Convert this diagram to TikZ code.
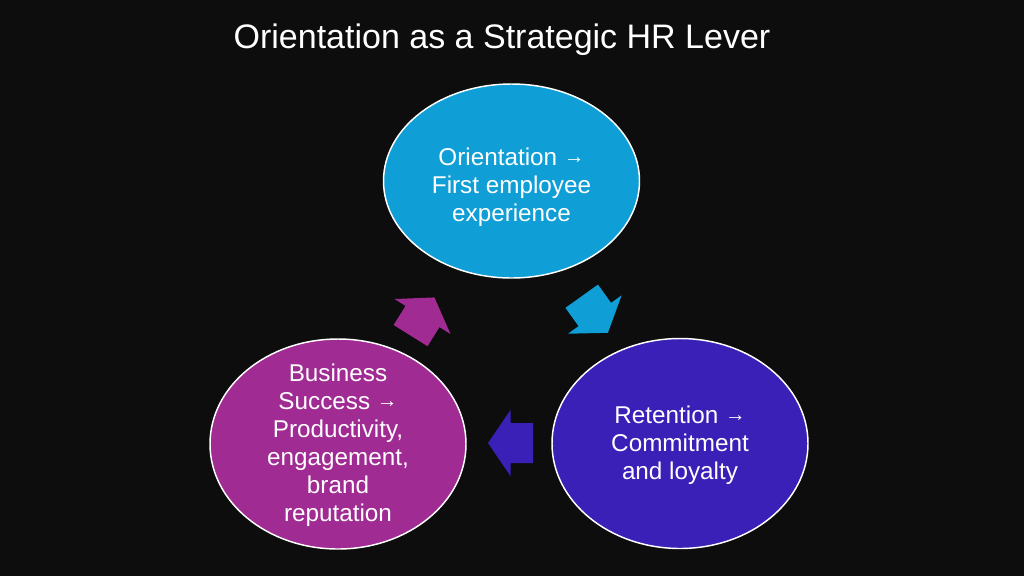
\documentclass[tikz,border=0pt]{standalone}
\usepackage{fontspec}
\setmainfont{Liberation Sans}
\usetikzlibrary{shapes.geometric}

\definecolor{slidebg}{HTML}{0D0D0D}
\definecolor{orientblue}{HTML}{0F9ED5}
\definecolor{retainviolet}{HTML}{3B20B8}
\definecolor{successmagenta}{HTML}{A02B93}

\newcommand{\leadsarrow}{\raisebox{0.08em}{\scalebox{0.85}{→}}}

\tikzset{
  bubble/.style={ellipse, draw=white, line width=1.1pt, inner sep=0pt, minimum width=192pt},
  bubbletext/.style={align=center, text=white, inner sep=0pt, font=\fontsize{18.2}{21}\selectfont},
  cyclearrow/.pic={
    \path[pic actions] (-22.5,-20) -- (0,-20) -- (0,-33) -- (22.5,0) -- (0,33) -- (0,20) -- (-22.5,20) -- cycle;
  },
}

\begin{document}
\begin{tikzpicture}[x=0.75pt,y=0.75pt,yscale=-1,xscale=1]
%slide background, sets the size
\fill[slidebg] (0,0) rectangle (1024,576);

% Title
\node[anchor=base, text=white, inner sep=0pt, font=\fontsize{25.5}{30}\selectfont] (title) at (502,48) {Orientation as a Strategic HR Lever};

%Shape: Ellipses
\node[bubble, fill=orientblue, minimum height=145.5pt] (orient) at (511.5,181) {};
\node[bubble, fill=retainviolet, minimum height=157.5pt] (retain) at (680,443.5) {};
\node[bubble, fill=successmagenta, minimum height=157.5pt] (success) at (338,444) {};

% Text Nodes
\node[bubbletext] (orienttext) at (511.5,187) {Orientation \leadsarrow\\First employee\\experience};
\node[bubbletext] (retaintext) at (680,445) {Retention \leadsarrow\\Commitment\\and loyalty};
\node[bubbletext] (successtext) at (338,445) {Business\\Success \leadsarrow\\Productivity,\\engagement,\\brand\\reputation};

%Shape: Block arrows
\pic[fill=orientblue, rotate=-54.4] (toretain) at (594.8,314.5) {cyclearrow};
\pic[fill=retainviolet, rotate=180] (tosuccess) at (510.5,443) {cyclearrow};
\pic[fill=successmagenta, rotate=58] (toorient) at (422.5,316.5) {cyclearrow};

\end{tikzpicture}
\end{document}
